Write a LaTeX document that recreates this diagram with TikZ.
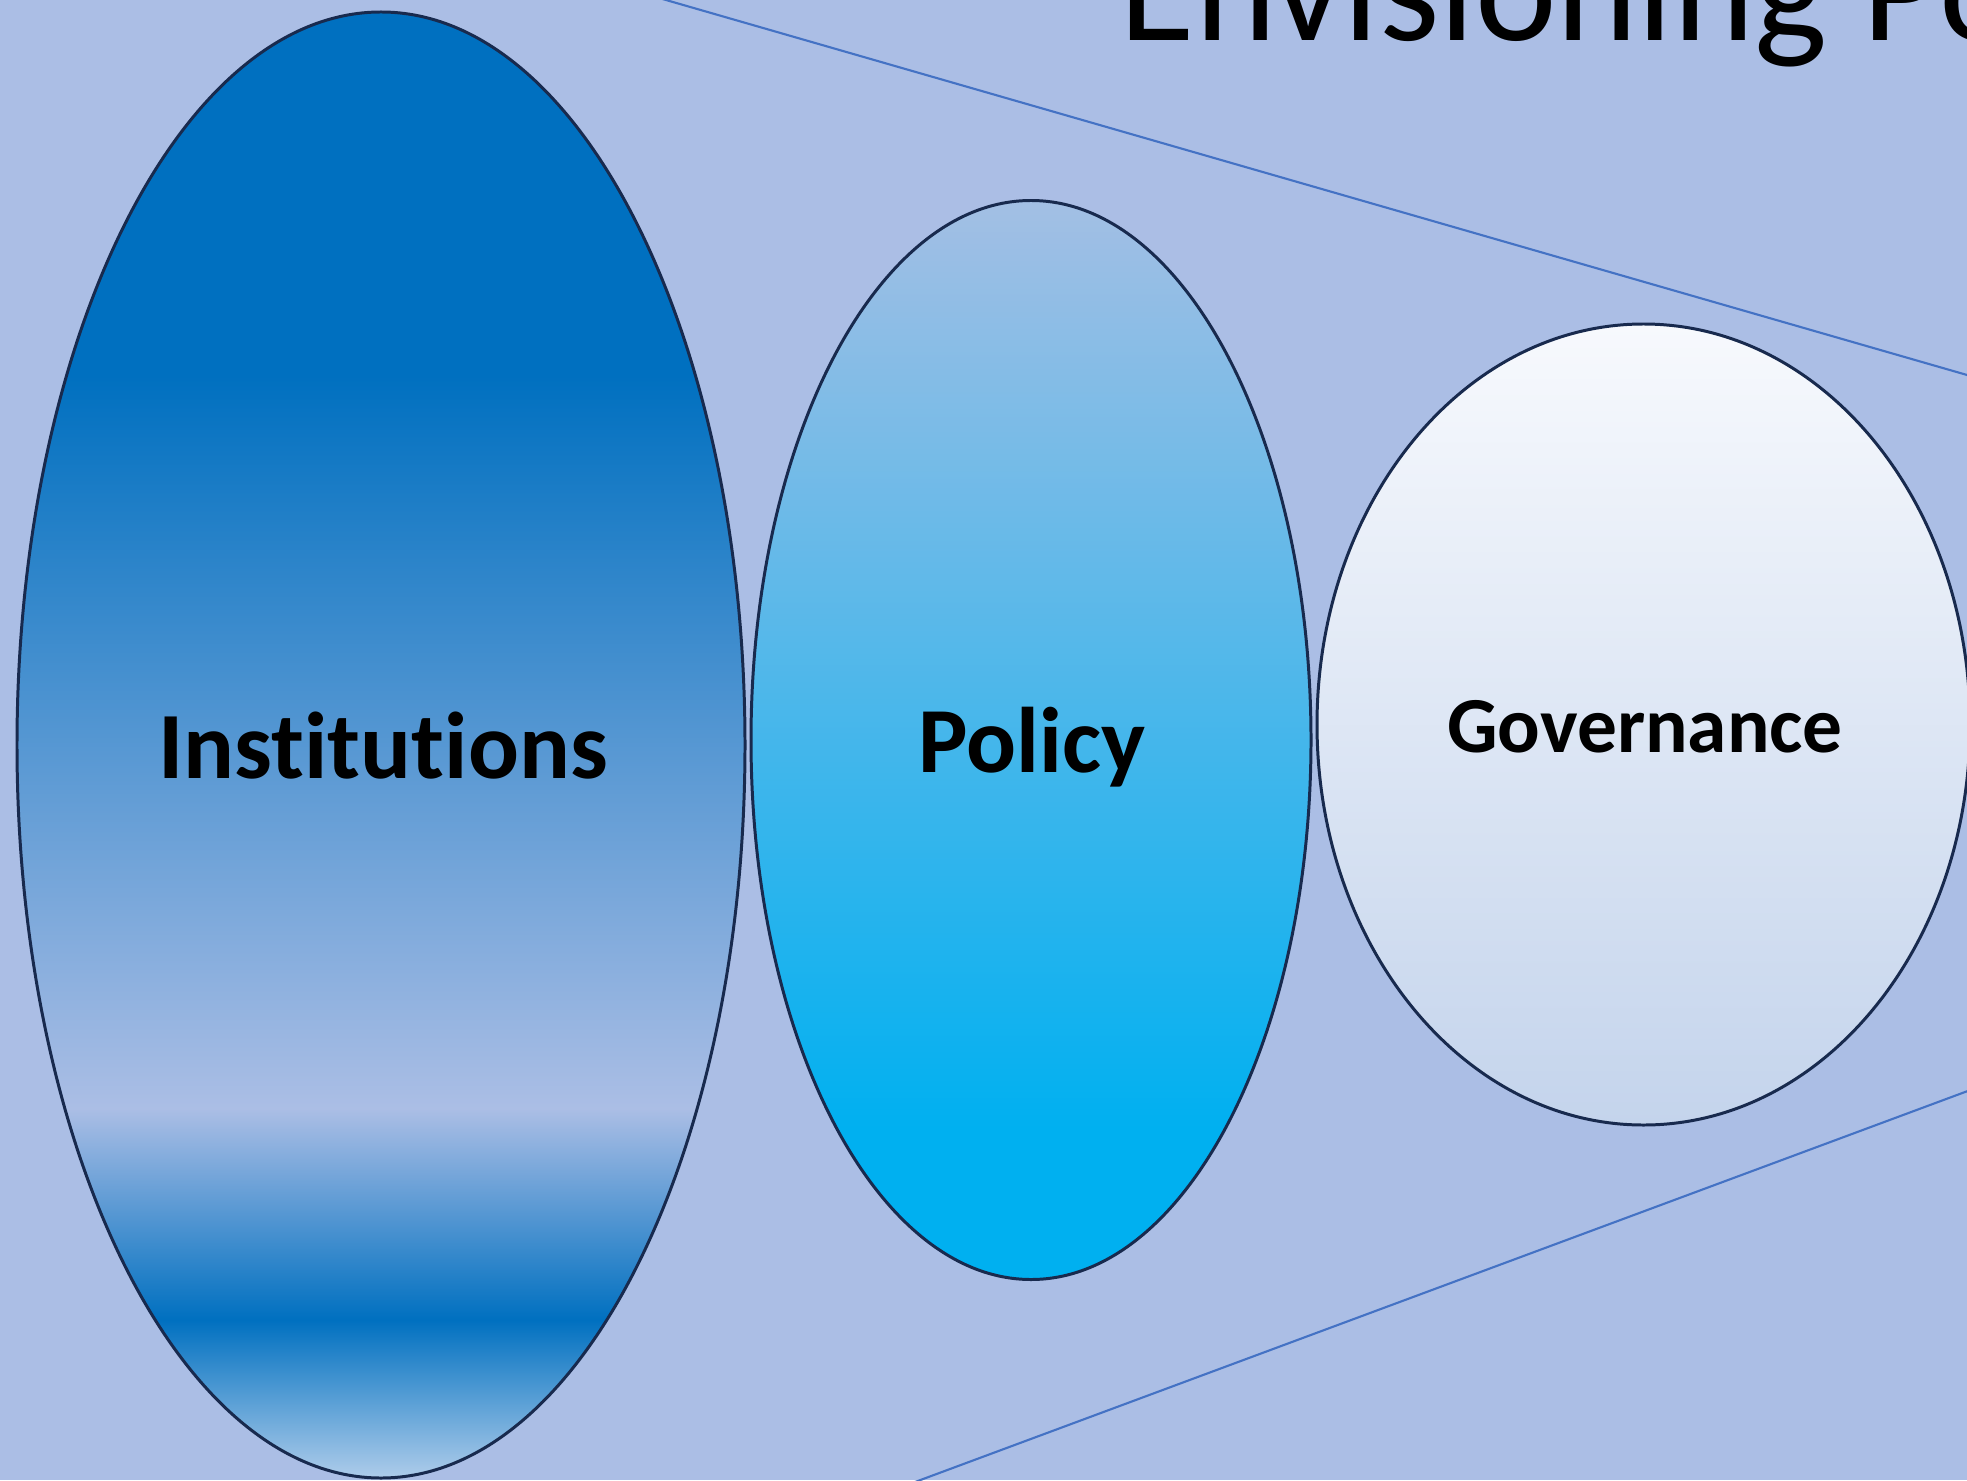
\documentclass[tikz,border=0pt]{standalone}
\usepackage{fontspec}
\setmainfont{Carlito}[Ligatures=NoCommon]
\usetikzlibrary{shapes.geometric}
\definecolor{fond}{RGB}{171,190,229}
\definecolor{trait}{RGB}{68,114,196}
\definecolor{bord}{RGB}{24,42,78}
\definecolor{instdark}{RGB}{0,112,192}
\definecolor{instlight}{RGB}{174,204,234}
\definecolor{pollight}{RGB}{163,191,228}
\definecolor{poldark}{RGB}{0,176,240}
\definecolor{govtop}{RGB}{247,249,253}
\definecolor{govbot}{RGB}{196,212,236}
%% degrades (25bp = bas, 75bp = haut)
\pgfdeclareverticalshading{instshade}{100bp}{color(0bp)=(instlight); color(25bp)=(instlight); color(30.4bp)=(instdark); color(37.6bp)=(fond); color(62.6bp)=(instdark); color(100bp)=(instdark)}
\pgfdeclareverticalshading{polshade}{100bp}{color(0bp)=(poldark); color(32bp)=(poldark); color(75bp)=(pollight); color(100bp)=(pollight)}
\pgfdeclareverticalshading{govshade}{100bp}{color(0bp)=(govbot); color(25bp)=(govbot); color(75bp)=(govtop); color(100bp)=(govtop)}
\tikzset{
  bulle/.style={ellipse,draw=bord,line width=.85pt,shade,inner sep=0pt},
  lbl/.style={anchor=base,inner sep=0pt,font=\bfseries}
}

\begin{document}
\begin{tikzpicture}%
\useasboundingbox (0,0) rectangle (19.67,14.80);%%
\clip (0,0) rectangle (19.67,14.80);%%
%%FOND
\fill[fond] (0,0) rectangle (19.67,14.80);%%
%%TRAITS
\coordinate (hautA) at (6.00,14.99);%%
\coordinate (hautB) at (20.00,10.955);%%
\coordinate (basA) at (8.80,-0.15);%%
\coordinate (basB) at (20.00,4.01);%%
\draw[trait,line width=.6pt] (hautA) -- (hautB);%%
\draw[trait,line width=.6pt] (basA) -- (basB);%%
%%ELLIPSES
\node[bulle,shading=instshade,minimum width=7.28cm,minimum height=14.66cm] (inst) at (3.81,7.35) {};%%
\node[bulle,shading=polshade,minimum width=5.60cm,minimum height=10.79cm] (pol) at (10.31,7.40) {};%%
\node[bulle,shading=govshade,minimum width=6.53cm,minimum height=8.01cm] (gov) at (16.435,7.555) {};%%
%%TEXTE
\node[lbl,font=\bfseries\fontsize{27}{32}\selectfont] (instlbl) at (3.83,7.02) {Institutions};%%
\node[lbl,font=\bfseries\fontsize{26.5}{32}\selectfont] (pollbl) at (10.32,7.08) {Policy};%%
\node[lbl,font=\bfseries\fontsize{22.6}{27}\selectfont] (govlbl) at (16.45,7.28) {Governance};%%
%%TITRE
\node[anchor=base west,inner sep=0pt,font=\fontsize{44}{53}\selectfont] (titre) at (11.19,14.39) {Envisioning Po};%%
\end{tikzpicture}
\end{document}
